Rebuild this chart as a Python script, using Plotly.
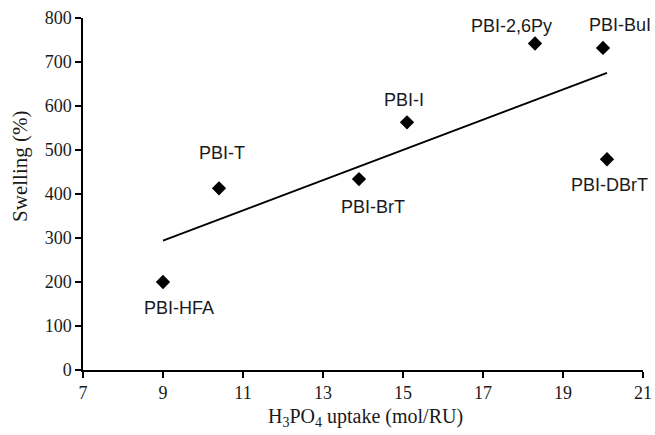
import numpy as np
import plotly.graph_objects as go

names = ["PBI-HFA", "PBI-T", "PBI-BrT", "PBI-I", "PBI-2,6Py", "PBI-BuI", "PBI-DBrT"]
uptake = [9.0, 10.4, 13.9, 15.1, 18.3, 20.0, 20.1]
swelling = [200, 413, 434, 563, 742, 732, 479]

x_ticks = [7, 9, 11, 13, 15, 17, 19, 21]
y_ticks = [0, 100, 200, 300, 400, 500, 600, 700, 800]

# label offsets in pixels (layout only)
label_dx = [16, 3, 14, -3, -24, 17, 2]
label_dy = [-26, 35, -28, 22, 18, 23, -26]

slope, intercept = np.polyfit(uptake, swelling, 1)
fit_x = [min(uptake), max(uptake)]
fit_y = [slope * v + intercept for v in fit_x]

fig = go.Figure()
fig.add_trace(go.Scatter(x=fit_x, y=fit_y, mode="lines",
                         line=dict(color="black", width=2), showlegend=False,
                         hoverinfo="skip"))
fig.add_trace(go.Scatter(x=uptake, y=swelling, mode="markers",
                         marker=dict(symbol="diamond", size=11, color="black"),
                         showlegend=False, text=names))

for n, xv, yv, dx, dy in zip(names, uptake, swelling, label_dx, label_dy):
    fig.add_annotation(x=xv, y=yv, text=n, showarrow=False, xshift=dx, yshift=dy,
                       font=dict(family="Liberation Sans, Arial", size=18, color="#1a1a1a"))

fig.add_annotation(xref="paper", yref="paper", x=-0.1125, y=0.577,
                   text="Swelling (%)", textangle=-90, showarrow=False,
                   xanchor="center", yanchor="middle",
                   font=dict(family="Liberation Serif, Times New Roman", size=21, color="#1a1a1a"))
fig.add_annotation(xref="paper", yref="paper", x=0.504, y=-0.136,
                   text="H<sub>3</sub>PO<sub>4</sub> uptake (mol/RU)", showarrow=False,
                   xanchor="center", yanchor="middle",
                   font=dict(family="Liberation Serif, Times New Roman", size=20, color="#1a1a1a"))

axis_font = dict(family="Liberation Serif, Times New Roman", size=18, color="#1a1a1a")
fig.update_xaxes(range=[7, 21], tickvals=x_ticks, ticktext=[str(v) for v in x_ticks],
                 showline=True, linecolor="black", linewidth=1.5, ticks="outside",
                 ticklen=6, tickwidth=1.5, tickcolor="black", showgrid=False,
                 zeroline=False, tickfont=axis_font, automargin=False)
fig.update_yaxes(range=[0, 800], tickvals=y_ticks, ticktext=[str(v) for v in y_ticks],
                 showline=True, linecolor="black", linewidth=1.5, ticks="outside",
                 ticklen=6, tickwidth=1.5, tickcolor="black", showgrid=False,
                 zeroline=False, tickfont=axis_font, automargin=False)
fig.update_layout(width=655, height=435, margin=dict(l=83, r=12, t=18, b=65),
                  plot_bgcolor="white", paper_bgcolor="white")
fig.write_html("out.html")
